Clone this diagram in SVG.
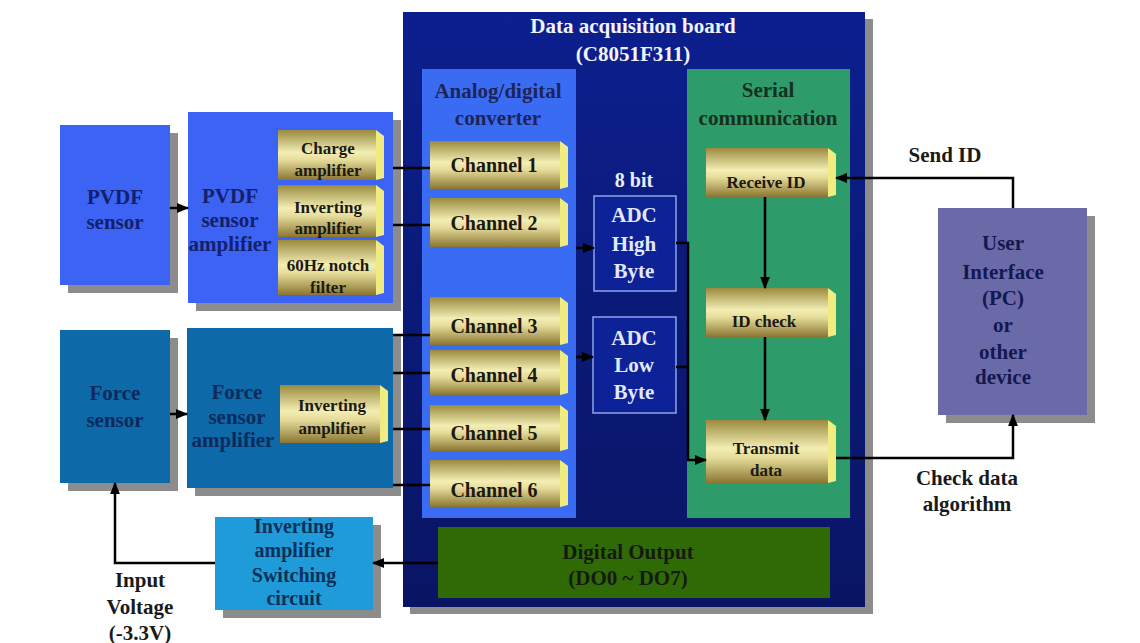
<svg xmlns="http://www.w3.org/2000/svg" width="1140" height="643" viewBox="0 0 1140 643">
<defs>
<linearGradient id="gold" x1="0" y1="0" x2="0" y2="1">
<stop offset="0" stop-color="#9a8a3e"/>
<stop offset="0.45" stop-color="#f3eeb4"/>
<stop offset="0.6" stop-color="#e6dc9a"/>
<stop offset="1" stop-color="#8a7632"/>
</linearGradient>
<linearGradient id="board" x1="0" y1="0" x2="0" y2="1">
<stop offset="0" stop-color="#0c1f8e"/>
<stop offset="1" stop-color="#091563"/>
</linearGradient>
<marker id="arr" viewBox="0 0 10 10" refX="9" refY="5" markerWidth="5" markerHeight="5" orient="auto">
<path d="M0,1 L10,5 L0,9 z" fill="#000"/>
</marker>
<style>
text{font-family:"Liberation Serif","Times New Roman",serif;font-weight:bold;text-anchor:middle}
.sh{fill:#8c8c8c}
.gold{fill:url(#gold)}
.bev{fill:#f0ec82}
.ch{font-size:20px;fill:#1c1a10}
.sm{font-size:17px;fill:#1c1a10}
.big{font-size:21px}
.wire{fill:none;stroke:#000;stroke-width:2.5}
</style>
</defs>
<rect width="1140" height="643" fill="#ffffff"/>

<g id="board-g">
<rect class="sh" x="410" y="19" width="463" height="595"/>
<rect x="403" y="12" width="462" height="595" fill="url(#board)"/>
<text class="big" x="633" y="33" fill="#f2f4ff">Data acquisition board</text>
<text class="big" x="633" y="61" fill="#f2f4ff">(C8051F311)</text>
</g>

<g id="adc">
<rect x="422" y="69" width="154" height="449" fill="#3a6cf3"/>
<text class="big" x="498" y="98" fill="#1e2458">Analog/digital</text>
<text class="big" x="498" y="125" fill="#1e2458">converter</text>
</g>

<g id="serial">
<rect x="687" y="69" width="163" height="449" fill="#2e9b6b"/>
<text class="big" x="768" y="97" fill="#16301e">Serial</text>
<text class="big" x="768" y="125" fill="#16301e">communication</text>
</g>

<g id="ch1"><rect class="gold" x="430" y="141" width="130" height="48"/><polygon class="bev" points="560,141 568,147 568,187 560,189"/><text class="ch" x="494" y="172">Channel 1</text></g>
<g id="ch2"><rect class="gold" x="430" y="198" width="130" height="49"/><polygon class="bev" points="560,198 568,204 568,245 560,247"/><text class="ch" x="494" y="230">Channel 2</text></g>
<g id="ch3"><rect class="gold" x="430" y="297" width="130" height="48"/><polygon class="bev" points="560,297 568,303 568,343 560,345"/><text class="ch" x="494" y="333">Channel 3</text></g>
<g id="ch4"><rect class="gold" x="430" y="350" width="130" height="45"/><polygon class="bev" points="560,350 568,356 568,393 560,395"/><text class="ch" x="494" y="382">Channel 4</text></g>
<g id="ch5"><rect class="gold" x="430" y="405" width="130" height="46"/><polygon class="bev" points="560,405 568,411 568,449 560,451"/><text class="ch" x="494" y="440">Channel 5</text></g>
<g id="ch6"><rect class="gold" x="430" y="460" width="130" height="47"/><polygon class="bev" points="560,460 568,466 568,505 560,507"/><text class="ch" x="494" y="497">Channel 6</text></g>

<g id="bit8"><text x="634" y="187" font-size="20" fill="#e8eeff">8 bit</text></g>
<g id="adc-high">
<rect x="594" y="196" width="82" height="95" fill="#0c2296" stroke="#8fa3e8" stroke-width="1.5"/>
<text x="634" y="222" font-size="21" fill="#e2e8ff">ADC</text>
<text x="634" y="251" font-size="21" fill="#e2e8ff">High</text>
<text x="634" y="278" font-size="21" fill="#e2e8ff">Byte</text>
</g>
<g id="adc-low">
<rect x="593" y="317" width="83" height="96" fill="#0c2296" stroke="#8fa3e8" stroke-width="1.5"/>
<text x="634" y="345" font-size="21" fill="#e2e8ff">ADC</text>
<text x="634" y="372" font-size="21" fill="#e2e8ff">Low</text>
<text x="634" y="399" font-size="21" fill="#e2e8ff">Byte</text>
</g>

<g id="receive-id"><rect class="gold" x="706" y="148" width="122" height="49"/><polygon class="bev" points="828,148 836,154 836,195 828,197"/><text class="sm" x="766" y="188">Receive ID</text></g>
<g id="id-check"><rect class="gold" x="706" y="288" width="122" height="49"/><polygon class="bev" points="828,288 836,294 836,335 828,337"/><text class="sm" x="764" y="327">ID check</text></g>
<g id="transmit"><rect class="gold" x="706" y="420" width="122" height="63"/><polygon class="bev" points="828,420 836,426 836,481 828,483"/><text class="sm" x="766" y="454">Transmit</text><text class="sm" x="766" y="476">data</text></g>

<g id="digital-output">
<rect x="438" y="527" width="392" height="71" fill="#2f6a06"/>
<text x="628" y="559" font-size="21" fill="#151a10">Digital Output</text>
<text x="628" y="585" font-size="21" fill="#151a10">(DO0 ~ DO7)</text>
</g>

<g id="pvdf-sensor">
<rect class="sh" x="68" y="133" width="110" height="160"/>
<rect x="60" y="125" width="110" height="160" fill="#3c63f3"/>
<text class="big" x="115" y="204" fill="#14206a">PVDF</text>
<text class="big" x="115" y="229" fill="#14206a">sensor</text>
</g>

<g id="pvdf-amp">
<rect class="sh" x="196" y="120" width="205" height="191"/>
<rect x="188" y="112" width="205" height="191" fill="#3c63f3"/>
<text class="big" x="230" y="203" fill="#14206a">PVDF</text>
<text class="big" x="230" y="227" fill="#14206a">sensor</text>
<text class="big" x="230" y="251" fill="#14206a">amplifier</text>
</g>
<g id="charge-amp"><rect class="gold" x="278" y="130" width="98" height="50"/><polygon class="bev" points="376,130 384,136 384,178 376,180"/><text class="sm" x="328" y="154">Charge</text><text class="sm" x="328" y="176">amplifier</text></g>
<g id="inv-amp1"><rect class="gold" x="278" y="185" width="98" height="52"/><polygon class="bev" points="376,185 384,191 384,235 376,237"/><text class="sm" x="328" y="213">Inverting</text><text class="sm" x="328" y="234">amplifier</text></g>
<g id="notch"><rect class="gold" x="278" y="240" width="98" height="55"/><polygon class="bev" points="376,240 384,246 384,293 376,295"/><text class="sm" x="328" y="271">60Hz notch</text><text class="sm" x="328" y="293">filter</text></g>

<g id="force-sensor">
<rect class="sh" x="68" y="338" width="110" height="153"/>
<rect x="60" y="330" width="110" height="153" fill="#0e69a9"/>
<text class="big" x="115" y="400" fill="#0c2a5c">Force</text>
<text class="big" x="115" y="427" fill="#0c2a5c">sensor</text>
</g>

<g id="force-amp">
<rect class="sh" x="195" y="336" width="206" height="160"/>
<rect x="187" y="328" width="206" height="160" fill="#0e69a9"/>
<text class="big" x="237" y="399" fill="#0c2a5c">Force</text>
<text class="big" x="237" y="424" fill="#0c2a5c">sensor</text>
<text class="big" x="233" y="447" fill="#0c2a5c">amplifier</text>
</g>
<g id="inv-amp2"><rect class="gold" x="280" y="385" width="100" height="58"/><polygon class="bev" points="380,385 388,391 388,441 380,443"/><text class="sm" x="332" y="411">Inverting</text><text class="sm" x="332" y="434">amplifier</text></g>

<g id="switching">
<rect class="sh" x="223" y="525" width="158" height="93"/>
<rect x="215" y="517" width="158" height="93" fill="#1e9bd8"/>
<text x="294" y="533" font-size="20" fill="#0a3058">Inverting</text>
<text x="294" y="557" font-size="20" fill="#0a3058">amplifier</text>
<text x="294" y="582" font-size="20" fill="#0a3058">Switching</text>
<text x="294" y="605" font-size="20" fill="#0a3058">circuit</text>
</g>

<g id="user-interface">
<rect class="sh" x="946" y="216" width="149" height="207"/>
<rect x="938" y="208" width="149" height="207" fill="#6b6aa8"/>
<text class="big" x="1003" y="250" fill="#141850">User</text>
<text class="big" x="1003" y="279" fill="#141850">Interface</text>
<text class="big" x="1003" y="305" fill="#141850">(PC)</text>
<text class="big" x="1003" y="332" fill="#141850">or</text>
<text class="big" x="1003" y="359" fill="#141850">other</text>
<text class="big" x="1003" y="384" fill="#141850">device</text>
</g>

<g id="labels">
<text class="big" x="945" y="162" fill="#1a1a1a">Send ID</text>
<text class="big" x="967" y="485" fill="#1a1a1a">Check data</text>
<text class="big" x="967" y="511" fill="#1a1a1a">algorithm</text>
<text x="140" y="587" font-size="21" fill="#1a1a1a">Input</text>
<text x="140" y="614" font-size="21" fill="#1a1a1a">Voltage</text>
<text x="140" y="640" font-size="21" fill="#1a1a1a">(-3.3V)</text>
</g>

<g id="connectors">
<line class="wire" x1="170" y1="208" x2="188" y2="208" marker-end="url(#arr)"/>
<line class="wire" x1="393" y1="168" x2="430" y2="168"/>
<line class="wire" x1="393" y1="225" x2="430" y2="225"/>
<line class="wire" x1="170" y1="414" x2="187" y2="414" marker-end="url(#arr)"/>
<line class="wire" x1="393" y1="335" x2="430" y2="335"/>
<line class="wire" x1="393" y1="373" x2="430" y2="373"/>
<line class="wire" x1="393" y1="429" x2="430" y2="429"/>
<line class="wire" x1="393" y1="485" x2="430" y2="485"/>
<line class="wire" x1="576" y1="248" x2="594" y2="248" marker-end="url(#arr)"/>
<line class="wire" x1="576" y1="357" x2="593" y2="357" marker-end="url(#arr)"/>
<polyline class="wire" points="676,243 688,243 688,460 706,460" marker-end="url(#arr)"/>
<line class="wire" x1="676" y1="367" x2="688" y2="367"/>
<line class="wire" x1="765" y1="197" x2="765" y2="288" marker-end="url(#arr)"/>
<line class="wire" x1="765" y1="337" x2="765" y2="420" marker-end="url(#arr)"/>
<polyline class="wire" points="1013,208 1013,178 836,178" marker-end="url(#arr)"/>
<polyline class="wire" points="836,458 1013,458 1013,415" marker-end="url(#arr)"/>
<line class="wire" x1="438" y1="563" x2="373" y2="563" marker-end="url(#arr)"/>
<polyline class="wire" points="215,563 115,563 115,483" marker-end="url(#arr)"/>
</g>
</svg>
